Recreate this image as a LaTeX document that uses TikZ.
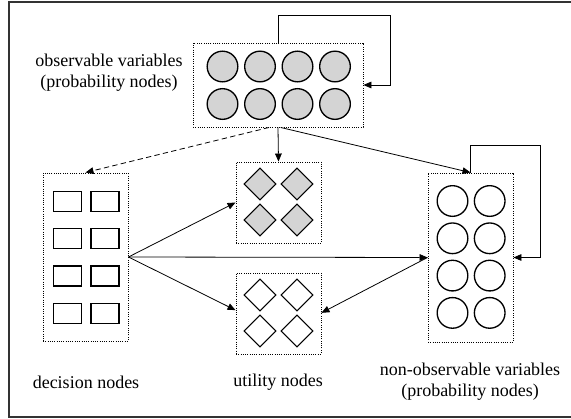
\documentclass[tikz,border=0pt]{standalone}
\usepackage{fontspec}
\setmainfont{Liberation Serif}
\usetikzlibrary{arrows.meta,shapes.geometric}
\definecolor{shade}{gray}{0.83}

\tikzset{
	grp/.style={draw,densely dotted,line width=0.7pt,inner sep=0pt,minimum width=63.75pt},
	var/.style={circle,draw,line width=1pt,inner sep=0pt,minimum size=23pt},
	act/.style={rectangle,draw,line width=1pt,inner sep=0pt,minimum width=21pt,minimum height=15pt},
	util/.style={diamond,draw,line width=0.8pt,inner sep=0pt,minimum width=24pt,minimum height=24pt},
	arr/.style={-{Triangle[length=6pt,width=5pt]},line width=0.6pt},
	lbl/.style={align=center,font=\fontsize{13.5}{15.75}\selectfont}
}

\begin{document}
\begin{tikzpicture}[x=0.75pt,y=-0.75pt]
	\useasboundingbox (0,0) rectangle (571,418);
	\draw[line width=0.8pt,black!80] (572,2) -- (9,2) -- (9,417) -- (572,417);

	% groups
	\node[grp,minimum width=127.5pt,minimum height=63pt] (obs) at (278,85) {};
	\node[grp,minimum height=126pt] (dec) at (85.5,257) {};
	\node[grp,minimum height=60.75pt] (utilA) at (278.5,202.5) {};
	\node[grp,minimum height=60.75pt] (utilB) at (278.5,313.5) {};
	\node[grp,minimum height=126.75pt] (hid) at (470.5,257.5) {};

	% members
	\foreach \i in {0,1,2,3}{
		\foreach \j in {0,1}{
			\node[var,fill=shade] (o\i\j) at (222.5+37.5*\i,66.5+37.5*\j) {};
		}
	}
	\foreach \i in {0,1}{
		\foreach \j in {0,1,2,3}{
			\node[act] (d\i\j) at (67.5+37.5*\i,201.5+37.3*\j) {};
			\node[var] (h\i\j) at (452.5+37.2*\i,201+37.3*\j) {};
		}
	}
	\foreach \i in {0,1}{
		\foreach \j in {0,1}{
			\node[util,fill=shade] (ua\i\j) at (260+37*\i,184+36*\j) {};
			\node[util] (ub\i\j) at (260+37*\i,295+36*\j) {};
		}
	}

	% labels
	\node[lbl] (obslbl) at (109,73) {observable variables\\(probability nodes)};
	\node[lbl] (declbl) at (86,382) {decision nodes};
	\node[lbl] (utillbl) at (278,382) {utility nodes};
	\node[lbl] (hidlbl) at (470,382) {non-observable variables\\(probability nodes)};

	% links
	\draw[arr,dash pattern=on 4pt off 2.5pt] ([xshift=-6.75pt]obs.south) -- (dec.north);
	\draw[arr] (obs.south) -- (utilA.north);
	\draw[arr] ([xshift=2pt]obs.south) -- (hid.north);
	\draw[arr] (obs.north) -- ++(0,-27) -| ([xshift=20.25pt]obs.east) -- (obs.east);
	\draw[arr] (hid.north) -- ++(0,-27) -| ([xshift=20.25pt]hid.east) -- (hid.east);
	\draw[arr] (dec.east) -- (utilA.west);
	\draw[arr] (dec.east) -- (hid.west);
	\draw[arr] (dec.east) -- ([yshift=2.5pt]utilB.west);
	\draw[arr,{Triangle[length=6pt,width=5pt]}-] ([yshift=0.5pt]utilB.east) -- (hid.west);
\end{tikzpicture}
\end{document}
